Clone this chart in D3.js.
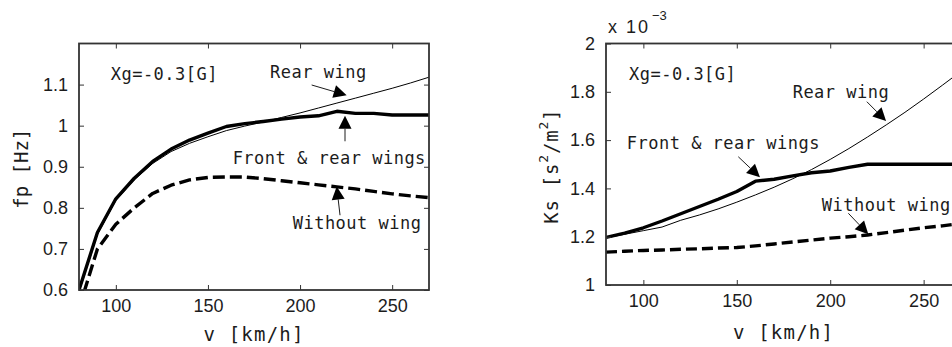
<!DOCTYPE html>
<html>
<head>
<meta charset="utf-8">
<script src="https://cdn.jsdelivr.net/npm/d3@7"></script>
<style>
  html, body { margin: 0; padding: 0; background: #fff; overflow: hidden; }
  svg { display: block; }
</style>
</head>
<body>
<svg id="chart" width="952" height="347"></svg>
<script>
// Vehicle speed samples [km/h]
const speeds = [80, 90, 100, 110, 120, 130, 140, 150, 160, 170, 180, 190, 200, 210, 220, 230, 240, 250, 260, 270];

// Pitch natural frequency fp [Hz]
const fpRearWing      = [0.595, 0.735, 0.818, 0.868, 0.908, 0.937, 0.957, 0.973, 0.988, 0.999, 1.009, 1.020, 1.031, 1.043, 1.055, 1.067, 1.079, 1.091, 1.104, 1.118];
const fpFrontRearWing = [0.600, 0.740, 0.822, 0.872, 0.913, 0.943, 0.965, 0.982, 0.998, 1.005, 1.010, 1.016, 1.021, 1.024, 1.035, 1.030, 1.030, 1.026, 1.026, 1.026];
const fpWithoutWing   = [0.555, 0.700, 0.760, 0.800, 0.835, 0.855, 0.868, 0.874, 0.875, 0.875, 0.871, 0.866, 0.861, 0.856, 0.851, 0.846, 0.840, 0.834, 0.829, 0.825];

// Stability coefficient Ks [s^2/m^2], in units of 1e-3
const ksRearWing      = [1.195, 1.210, 1.225, 1.240, 1.268, 1.290, 1.315, 1.343, 1.373, 1.405, 1.440, 1.478, 1.520, 1.565, 1.613, 1.663, 1.715, 1.770, 1.827, 1.885];
const ksFrontRearWing = [1.197, 1.215, 1.237, 1.265, 1.295, 1.325, 1.355, 1.387, 1.430, 1.438, 1.452, 1.465, 1.472, 1.487, 1.500, 1.500, 1.500, 1.500, 1.500, 1.500];
const ksWithoutWing   = [1.136, 1.140, 1.143, 1.145, 1.148, 1.150, 1.153, 1.155, 1.162, 1.170, 1.178, 1.186, 1.194, 1.200, 1.207, 1.217, 1.227, 1.237, 1.245, 1.255];

// Axis ticks
const speedTicks = [100, 150, 200, 250];
const fpTicks = [0.6, 0.7, 0.8, 0.9, 1.0, 1.1];
const ksTicks = [1.0, 1.2, 1.4, 1.6, 1.8, 2.0];

// Curve labels (data coordinates of text start / baseline)
const fpNotes = [
  { text: "Xg=-0.3[G]", v: 97.2, y: 1.111 },
  { text: "Rear wing", v: 183.7, y: 1.116 },
  { text: "Front & rear wings", v: 163.4, y: 0.907 },
  { text: "Without wing", v: 196.0, y: 0.748 }
];
const ksNotes = [
  { text: "Xg=-0.3[G]", v: 92.3, y: 1.849 },
  { text: "Rear wing", v: 179.9, y: 1.776 },
  { text: "Front & rear wings", v: 91.1, y: 1.563 },
  { text: "Without wing", v: 195.5, y: 1.308 }
];
// Pointer arrows: tail -> tip, in data coordinates
const fpArrows = [
  { v0: 206.3, y0: 1.099, v1: 225.3, y1: 1.074 },
  { v0: 224.4, y0: 0.962, v1: 224.4, y1: 1.024 },
  { v0: 221.7, y0: 0.782, v1: 219.9, y1: 0.852 }
];
const ksArrows = [
  { v0: 219.6, y0: 1.759, v1: 229.9, y1: 1.679 },
  { v0: 150.8, y0: 1.531, v1: 162.4, y1: 1.446 },
  { v0: 209.7, y0: 1.297, v1: 220.4, y1: 1.210 }
];

const ink = "#1c1c1c";
const frameInk = "#333";
const tickFont = "'Liberation Sans', Arial, sans-serif";
const monoFont = "'DejaVu Sans Mono', 'Liberation Mono', monospace";

const svg = d3.select("#chart");
svg.append("rect").attr("width", 952).attr("height", 347).attr("fill", "#fff");
const defs = svg.append("defs");

function drawPanel(cfg) {
  const { left, right, top, bottom } = cfg.box;
  const x = d3.scaleLinear().domain([80, 270]).range([left, right]);
  const y = d3.scaleLinear().domain(cfg.yDomain).range([bottom, top]);
  const g = svg.append("g");

  defs.append("clipPath").attr("id", cfg.id + "-clip")
    .append("rect")
    .attr("x", left).attr("y", top)
    .attr("width", right - left).attr("height", bottom - top);

  // Curves
  const line = d3.line().x((d, i) => x(speeds[i])).y(d => y(d));
  const curves = g.append("g").attr("clip-path", `url(#${cfg.id}-clip)`);
  cfg.series.forEach(s => {
    curves.append("path")
      .attr("d", line(s.values))
      .attr("fill", "none")
      .attr("stroke", "#000")
      .attr("stroke-width", s.width)
      .attr("stroke-dasharray", s.dash || null)
      .attr("stroke-linejoin", "round");
  });

  // Axes with inward ticks on all four sides
  const styleAxis = sel => {
    sel.select(".domain").remove();
    sel.selectAll(".tick line").attr("stroke", frameInk).attr("stroke-width", 1);
    sel.selectAll("text").attr("fill", ink).attr("font-family", tickFont).attr("font-size", 18);
  };
  g.append("g").attr("transform", `translate(0,${bottom})`)
    .call(d3.axisBottom(x).tickValues(speedTicks).tickSize(-5).tickPadding(9).tickFormat(d3.format("d")))
    .call(styleAxis);
  g.append("g").attr("transform", `translate(0,${top})`)
    .call(d3.axisTop(x).tickValues(speedTicks).tickSize(-5).tickFormat(""))
    .call(styleAxis);
  g.append("g").attr("transform", `translate(${left},0)`)
    .call(d3.axisLeft(y).tickValues(cfg.yTicks).tickSize(-5).tickPadding(11).tickFormat(d => d3.format("~g")(+d.toFixed(2))))
    .call(styleAxis);
  g.append("g").attr("transform", `translate(${right},0)`)
    .call(d3.axisRight(y).tickValues(cfg.yTicks).tickSize(-5).tickFormat(""))
    .call(styleAxis);

  g.append("rect")
    .attr("x", left).attr("y", top)
    .attr("width", right - left).attr("height", bottom - top)
    .attr("fill", "none").attr("stroke", frameInk).attr("stroke-width", 1.8);

  // Curve labels
  cfg.notes.forEach(n => {
    g.append("text")
      .attr("x", x(n.v)).attr("y", y(n.y))
      .attr("font-family", monoFont).attr("font-size", 17)
      .attr("letter-spacing", 0.5)
      .attr("fill", ink)
      .text(n.text);
  });

  // Pointer arrows
  cfg.arrows.forEach(a => {
    const x0 = x(a.v0), y0 = y(a.y0), x1 = x(a.v1), y1 = y(a.y1);
    const len = Math.hypot(x1 - x0, y1 - y0);
    const ux = (x1 - x0) / len, uy = (y1 - y0) / len;
    const headLen = 13, headHalf = 6.5;
    const bx = x1 - ux * headLen, by = y1 - uy * headLen;
    g.append("line")
      .attr("x1", x0).attr("y1", y0).attr("x2", bx).attr("y2", by)
      .attr("stroke", ink).attr("stroke-width", 1);
    g.append("path")
      .attr("d", `M${x1},${y1}L${bx - uy * headHalf},${by + ux * headHalf}L${bx + uy * headHalf},${by - ux * headHalf}Z`)
      .attr("fill", "#000");
  });

  // Axis titles
  g.append("text")
    .attr("x", (left + right) / 2).attr("y", cfg.xTitleY)
    .attr("text-anchor", "middle")
    .attr("font-family", monoFont).attr("font-size", 19)
    .attr("letter-spacing", 1.2)
    .attr("fill", ink)
    .text("v [km/h]");

  const yt = g.append("text")
    .attr("transform", `translate(${cfg.yTitleX},${(top + bottom) / 2 + 2}) rotate(-90)`)
    .attr("text-anchor", "middle")
    .attr("dominant-baseline", "central")
    .attr("font-family", monoFont).attr("font-size", 19)
    .attr("letter-spacing", cfg.yTitleSpacing)
    .attr("fill", ink);
  cfg.yTitle(yt);

  return { g, x, y };
}

// Left: pitch natural frequency
drawPanel({
  id: "fp",
  box: { left: 79, right: 429, top: 43.5, bottom: 290 },
  yDomain: [0.6, 1.2],
  yTicks: fpTicks,
  series: [
    { values: fpRearWing, width: 1 },
    { values: fpFrontRearWing, width: 3.4 },
    { values: fpWithoutWing, width: 3.4, dash: "12,5" }
  ],
  notes: fpNotes,
  arrows: fpArrows,
  xTitleY: 341,
  yTitleX: 21,
  yTitleSpacing: 0,
  yTitle: t => t.text("fp [Hz]")
});

// Right: stability coefficient
const ksPanel = drawPanel({
  id: "ks",
  box: { left: 606, right: 961, top: 43.5, bottom: 285 },
  yDomain: [1, 2],
  yTicks: ksTicks,
  series: [
    { values: ksRearWing, width: 1 },
    { values: ksFrontRearWing, width: 3.4 },
    { values: ksWithoutWing, width: 3.4, dash: "11,5" }
  ],
  notes: ksNotes,
  arrows: ksArrows,
  xTitleY: 339,
  yTitleX: 551,
  yTitleSpacing: 0.8,
  yTitle: t => {
    t.append("tspan").text("Ks [s");
    t.append("tspan").attr("dy", -8).attr("font-size", 13).text("2");
    t.append("tspan").attr("dy", 8).text("/m");
    t.append("tspan").attr("dy", -8).attr("font-size", 13).text("2");
    t.append("tspan").attr("dy", 8).text("]");
  }
});

// Exponent marker for the Ks axis
const expo = ksPanel.g.append("text")
  .attr("x", 608).attr("y", 33)
  .attr("font-family", tickFont).attr("font-size", 18)
  .attr("fill", ink);
expo.append("tspan").attr("letter-spacing", 2).text("x 10");
expo.append("tspan").attr("dy", -13).attr("dx", 2).attr("font-size", 13).text("−3");
</script>
</body>
</html>
